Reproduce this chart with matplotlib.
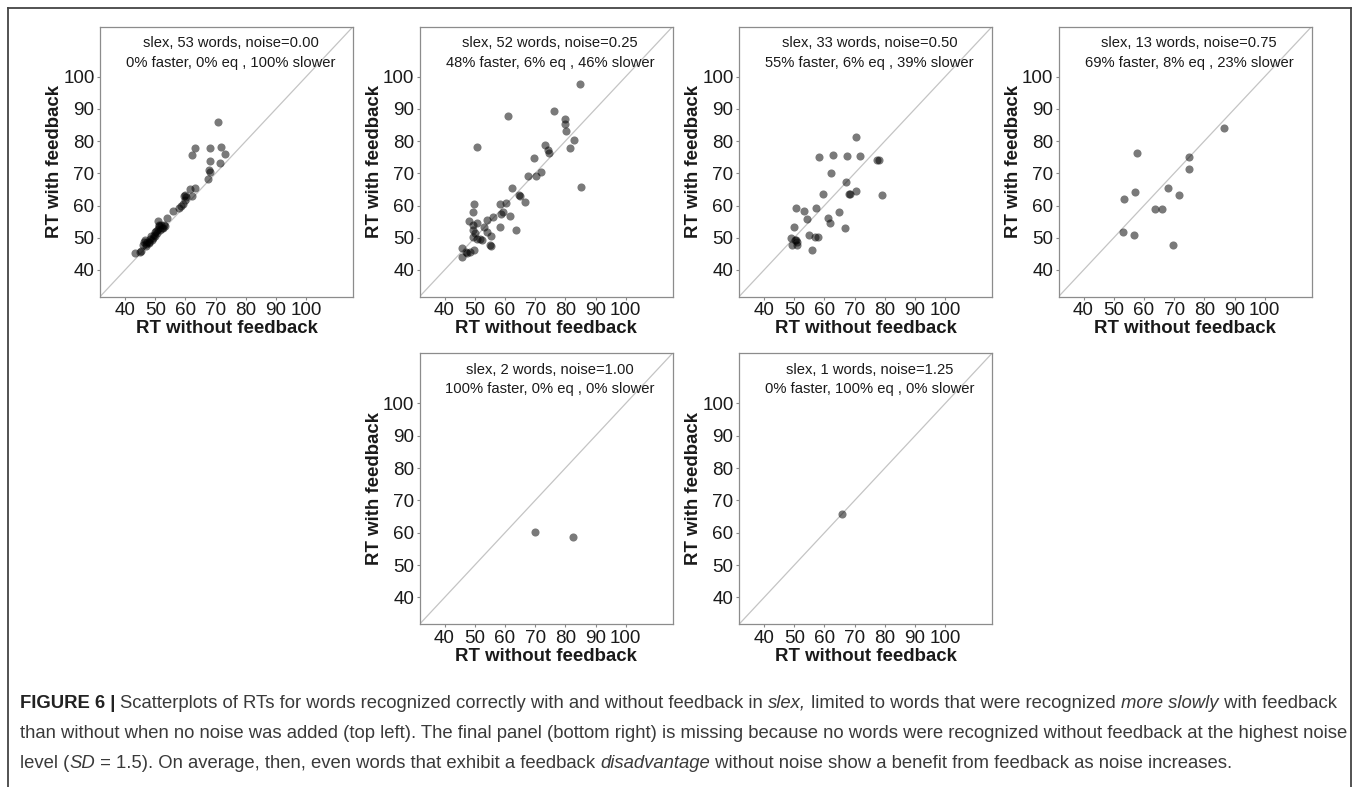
import matplotlib
matplotlib.use('Agg')
import matplotlib.pyplot as plt
from matplotlib.lines import Line2D
import matplotlib.transforms as mtransforms

plt.rcParams['font.family'] = ['Liberation Sans', 'DejaVu Sans']

# ---------------- data ----------------
noise_levels = ['0.00', '0.25', '0.50', '0.75', '1.00', '1.25']
n_words = [53, 52, 33, 13, 2, 1]
pct_faster = [0, 48, 55, 69, 100, 0]
pct_eq = [0, 6, 6, 8, 0, 100]
pct_slower = [100, 46, 39, 23, 0, 0]

p1_x = [43.2, 45.2, 46.0, 46.5, 47.0, 47.4, 47.8, 48.3, 48.6, 49.2, 49.6, 50.0, 50.3,
        50.7, 51.0, 51.2, 51.5, 51.8, 52.2, 51.0, 52.6, 53.9, 55.9, 57.8, 58.6, 59.2,
        59.4, 59.8, 60.3, 60.0, 61.4, 62.2, 63.1, 62.2, 63.1, 67.5, 67.7, 68.2, 68.0,
        68.3, 70.8, 71.3, 71.9, 73.0, 46.8, 48.0, 49.0, 50.0, 51.4, 52.8, 53.2, 46.2, 44.8]
p1_y = [45.4, 46.0, 47.6, 49.3, 48.2, 48.8, 48.6, 49.5, 50.4, 50.0, 51.0, 50.6, 52.0,
        51.4, 52.8, 53.5, 52.4, 53.9, 53.1, 55.1, 52.9, 56.0, 58.3, 59.3, 60.0, 60.5,
        62.9, 61.6, 62.5, 63.2, 65.2, 63.0, 65.4, 75.6, 77.7, 68.2, 71.1, 70.4, 73.8,
        78.0, 85.8, 73.1, 78.2, 76.0, 47.3, 48.4, 49.4, 51.7, 54.0, 54.0, 53.6, 48.6, 45.6]

p2_x = [84.7, 61.0, 76.1, 79.8, 80.0, 80.3, 82.8, 81.6, 50.8, 73.3, 74.2, 74.7, 69.5,
        67.8, 70.4, 72.0, 62.3, 85.3, 64.8, 65.0, 66.8, 60.2, 58.2, 49.9, 59.3, 49.4,
        61.7, 56.0, 54.0, 58.8, 48.0, 50.7, 49.4, 52.9, 58.4, 63.7, 54.0, 49.4, 55.5,
        49.4, 51.8, 52.3, 55.3, 55.1, 49.7, 45.7, 45.8, 47.2, 47.5, 48.3, 50.2, 50.9]
p2_y = [97.7, 87.7, 89.4, 86.8, 85.3, 83.1, 80.2, 77.9, 78.2, 78.8, 77.3, 76.3, 74.6,
        69.2, 69.2, 70.3, 65.4, 65.9, 63.2, 62.8, 61.2, 60.7, 60.4, 60.4, 58.1, 58.0,
        56.8, 56.3, 55.5, 57.3, 55.2, 54.5, 54.1, 53.3, 53.2, 52.4, 51.9, 52.4, 50.4,
        50.1, 49.5, 49.3, 47.5, 47.8, 46.1, 46.9, 44.1, 45.6, 45.4, 45.7, 51.6, 49.5]

p3_x = [70.4, 58.2, 62.8, 67.5, 71.7, 77.4, 78.1, 62.2, 67.0, 59.5, 70.4, 68.1, 68.6,
        79.2, 50.5, 53.1, 57.3, 64.7, 54.2, 61.2, 62.0, 66.9, 49.9, 54.9, 56.8, 57.9,
        48.8, 50.7, 51.0, 49.1, 50.9, 56.0, 50.2]
p3_y = [81.2, 75.1, 75.6, 75.3, 75.3, 74.1, 74.1, 70.2, 67.3, 63.7, 64.4, 63.5, 63.6,
        63.4, 59.2, 58.4, 59.1, 58.1, 55.8, 56.1, 54.7, 53.0, 53.2, 51.0, 50.3, 50.3,
        49.8, 49.3, 48.8, 47.8, 47.8, 46.2, 49.3]

p4_x = [86.5, 57.7, 74.9, 74.9, 67.9, 56.9, 71.6, 53.5, 63.8, 66.0, 53.0, 56.7, 69.6]
p4_y = [84.2, 76.2, 75.0, 71.3, 65.4, 64.2, 63.3, 61.9, 58.9, 58.9, 51.9, 50.7, 47.8]

p5_x = [69.9, 82.6]
p5_y = [60.3, 58.8]

p6_x = [65.9]
p6_y = [65.9]

panel_x = [p1_x, p2_x, p3_x, p4_x, p5_x, p6_x]
panel_y = [p1_y, p2_y, p3_y, p4_y, p5_y, p6_y]

tick_values = [40, 50, 60, 70, 80, 90, 100]
axis_limits = (31.7, 115.5)
x_title = 'RT without feedback'
y_title = 'RT with feedback'

caption_lines = [
    [("FIGURE 6 | ", 'bold', 'normal'),
     ("Scatterplots of RTs for words recognized correctly with and without feedback in ", 'normal', 'normal'),
     ("slex,", 'normal', 'italic'),
     (" limited to words that were recognized ", 'normal', 'normal'),
     ("more slowly", 'normal', 'italic'),
     (" with feedback", 'normal', 'normal')],
    [("than without when no noise was added (top left). The final panel (bottom right) is missing "
      "because no words were recognized without feedback at the highest noise", 'normal', 'normal')],
    [("level (", 'normal', 'normal'),
     ("SD", 'normal', 'italic'),
     (" = 1.5). On average, then, even words that exhibit a feedback ", 'normal', 'normal'),
     ("disadvantage", 'normal', 'italic'),
     (" without noise show a benefit from feedback as noise increases.", 'normal', 'normal')],
]

# ---------------- layout ----------------
W, H = 1358, 787
DPI = 100
fig = plt.figure(figsize=(W / DPI, H / DPI), dpi=DPI)
fig.patch.set_facecolor('white')

lefts = [100, 419.5, 739, 1058.5, 419.5, 739]
tops = [26.7, 26.7, 26.7, 26.7, 353.3, 353.3]
heights = [270, 270, 270, 270, 271, 271]
pw = 253

txt_col = '#1a1a1a'
for i in range(6):
    l, t, h = lefts[i], tops[i], heights[i]
    ax = fig.add_axes([l / W, 1 - (t + h) / H, pw / W, h / H])
    ax.set_xlim(*axis_limits)
    ax.set_ylim(*axis_limits)
    ax.axline((axis_limits[0], axis_limits[0]), slope=1, color='#c4c4c4', lw=0.9, zorder=1)
    ax.scatter(panel_x[i], panel_y[i], s=34, c='black', alpha=0.52, linewidths=0, zorder=3)
    ax.set_xticks(tick_values)
    ax.set_yticks(tick_values)
    ax.tick_params(axis='both', length=2.4, width=0.8, color='#888888',
                   labelsize=13.6, labelcolor=txt_col, pad=1.5)
    for sp in ax.spines.values():
        sp.set_color('#8c8c8c')
        sp.set_linewidth(0.9)
    ax.set_xlabel(x_title, fontsize=13.4, fontweight='bold', color=txt_col)
    ax.set_ylabel(y_title, fontsize=13.4, fontweight='bold', color=txt_col)
    ax.xaxis.set_label_coords(0.5, -32 / h)
    ax.xaxis.label.set_va('center')
    ax.yaxis.set_label_coords(-45 / pw, 0.5)
    ax.yaxis.label.set_va('center')
    ax.yaxis.label.set_ha('center')
    trans = mtransforms.blended_transform_factory(ax.transData, ax.transAxes)
    ax.text(75, 1 - 16.6 / h, f"slex, {n_words[i]} words, noise={noise_levels[i]}",
            transform=trans, ha='center', va='center', fontsize=10.6, color=txt_col)
    ax.text(75, 1 - 36.0 / h,
            f"{pct_faster[i]}% faster, {pct_eq[i]}% eq , {pct_slower[i]}% slower",
            transform=trans, ha='center', va='center', fontsize=10.6, color=txt_col)

# outer frame (open at the bottom, cropped)
frame_col = '#444444'
fx0, fx1, fy0 = 8 / W, 1351 / W, 1 - 8 / H
fig.add_artist(Line2D([fx0, fx1], [fy0, fy0], transform=fig.transFigure, color=frame_col, lw=1.3))
fig.add_artist(Line2D([fx0, fx0], [fy0, 0], transform=fig.transFigure, color=frame_col, lw=1.3))
fig.add_artist(Line2D([fx1, fx1], [fy0, 0], transform=fig.transFigure, color=frame_col, lw=1.3))

# caption
renderer = fig.canvas.get_renderer()
cap_col = '#3a3a3a'


def draw_line(segs, x0, yc, fs, draw=True):
    x = x0
    made = []
    for s, wgt, sty in segs:
        t = fig.text(x / W, 1 - yc / H, s, fontsize=fs, fontweight=wgt, fontstyle=sty,
                     color=('#222222' if wgt == 'bold' else cap_col), ha='left', va='center')
        bb = t.get_window_extent(renderer)
        x += bb.width
        made.append(t)
    if not draw:
        for t in made:
            t.remove()
    return x - x0


fs0 = 11.0
w0 = draw_line(caption_lines[0], 20, 700, fs0, draw=False)
cap_fs = fs0 * (1320 / w0)
for segs, yc in zip(caption_lines, [703, 734, 764]):
    draw_line(segs, 20, yc, cap_fs)

fig.savefig('out.png', dpi=DPI, facecolor='white')
